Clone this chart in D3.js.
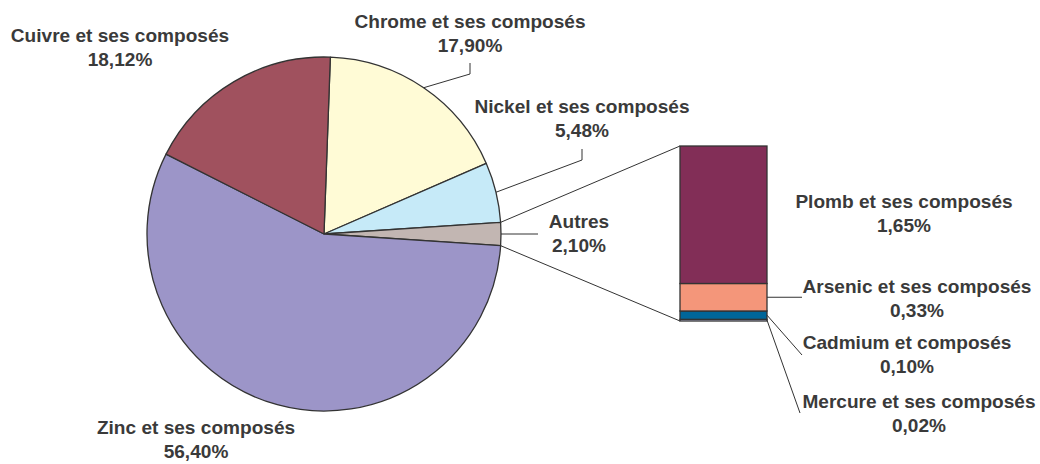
<!DOCTYPE html>
<html><head><meta charset="utf-8">
<script src="https://cdn.jsdelivr.net/npm/d3@7"></script>
<style>
html,body{margin:0;padding:0;background:#fff;}
text{font-family:"Liberation Sans",Arial,sans-serif;font-weight:bold;fill:#3a3a3a;}
</style></head>
<body>
<svg id="chart" width="1040" height="464"></svg>
<script>
// ---- data ----
const pieCategories = ["Chrome et ses composés","Nickel et ses composés","Autres","Zinc et ses composés","Cuivre et ses composés"];
const pieValues = [17.90, 5.48, 2.10, 56.40, 18.12];
const pieLabels = ["17,90%","5,48%","2,10%","56,40%","18,12%"];
const pieColors = ["#FFFBD6","#C6EAF8","#C2B6B2","#9C95C8","#A0515E"];

const barCategories = ["Mercure et ses composés","Cadmium et composés","Arsenic et ses composés","Plomb et ses composés"];
const barValues = [0.02, 0.10, 0.33, 1.65];
const barLabels = ["0,02%","0,10%","0,33%","1,65%"];
const barColors = ["#C8C8E8","#006699","#F4967A","#822E57"];

// ---- layout ----
const svg = d3.select("#chart");
const cx = 324, cy = 234, R = 177;
const otherIdx = 2;
const total = d3.sum(pieValues);
const before = d3.sum(pieValues.slice(0, otherIdx)) + pieValues[otherIdx] / 2;
const start = Math.PI / 2 - 2 * Math.PI * before / total;

const pie = d3.pie().sort(null).value(d => d).startAngle(start).endAngle(start + 2 * Math.PI);
const arcs = pie(pieValues);
const arc = d3.arc().innerRadius(0).outerRadius(R);
const pt = (a, r) => [cx + r * Math.sin(a), cy - r * Math.cos(a)];

const g = svg.append("g").attr("transform", `translate(${cx},${cy})`);
g.selectAll("path").data(arcs).join("path")
  .attr("d", arc)
  .attr("fill", (d, i) => pieColors[i])
  .attr("stroke", "#333")
  .attr("stroke-width", 1.3)
  .attr("stroke-linejoin", "round");

// ---- bar ----
const barX0 = 680, barX1 = 767;
const y = d3.scaleLinear().domain([0, d3.sum(barValues)]).range([321, 146]);
const stack = [];
let acc = 0;
barValues.forEach((v, i) => { stack.push({ y0: acc, y1: acc + v, i }); acc += v; });

// connectors
const oa = arcs[otherIdx];
const pTop = pt(oa.startAngle, R), pBot = pt(oa.endAngle, R);
svg.append("line").attr("x1", pTop[0]).attr("y1", pTop[1]).attr("x2", barX0).attr("y2", y(acc))
  .attr("stroke", "#333").attr("stroke-width", 1);
svg.append("line").attr("x1", pBot[0]).attr("y1", pBot[1]).attr("x2", barX0).attr("y2", y(0))
  .attr("stroke", "#333").attr("stroke-width", 1);

svg.selectAll("rect.seg").data(stack).join("rect")
  .attr("class", "seg")
  .attr("x", barX0).attr("width", barX1 - barX0)
  .attr("y", d => y(d.y1)).attr("height", d => y(d.y0) - y(d.y1))
  .attr("fill", d => barColors[d.i])
  .attr("stroke", "#333").attr("stroke-width", 1.3);

// ---- labels ----
const SX = 1.09;
function label(x, y1, l1, l2) {
  const t = svg.append("g").attr("transform", `translate(${x},0) scale(${SX},1)`);
  t.append("text").attr("x", 0).attr("y", y1).attr("text-anchor", "middle").attr("font-size", 17.5).text(l1);
  t.append("text").attr("x", 0).attr("y", y1 + 24).attr("text-anchor", "middle").attr("font-size", 17.5).text(l2);
}
const lineStyle = s => s.attr("fill", "none").attr("stroke", "#333").attr("stroke-width", 1);

// pie label positions (layout)
const pieLabelPos = [[470, 28], [582, 113], [579, 228], [196, 434], [120, 42]];
arcs.forEach((d, i) => {
  const [lx, ly] = pieLabelPos[i];
  label(lx, ly, pieCategories[i], pieLabels[i]);
});
// leaders
const mid = d => (d.startAngle + d.endAngle) / 2;
const pc = pt(mid(arcs[0]), R);
lineStyle(svg.append("polyline")).attr("points", [pc, [470, 74], [470, 63]].map(p => p.join(",")).join(" "));
const pn = pt(mid(arcs[1]), R);
lineStyle(svg.append("polyline")).attr("points", [pn, [582, 160], [582, 149]].map(p => p.join(",")).join(" "));
const pa = pt(mid(arcs[2]), R);
lineStyle(svg.append("polyline")).attr("points", [pa, [538, pa[1]]].map(p => p.join(",")).join(" "));

// bar labels
const barLabelPos = [[919, 408], [907, 349], [917, 293], [904, 208]];
barValues.forEach((v, i) => label(barLabelPos[i][0], barLabelPos[i][1], barCategories[i], barLabels[i]));
const segMid = i => y((stack[i].y0 + stack[i].y1) / 2);
lineStyle(svg.append("polyline")).attr("points", [[barX1, segMid(2)], [802, segMid(2)]].map(p => p.join(",")).join(" "));
lineStyle(svg.append("polyline")).attr("points", [[barX1, segMid(1)], [802, 355]].map(p => p.join(",")).join(" "));
lineStyle(svg.append("polyline")).attr("points", [[barX1, segMid(0)], [800, 413]].map(p => p.join(",")).join(" "));
</script>
</body></html>
